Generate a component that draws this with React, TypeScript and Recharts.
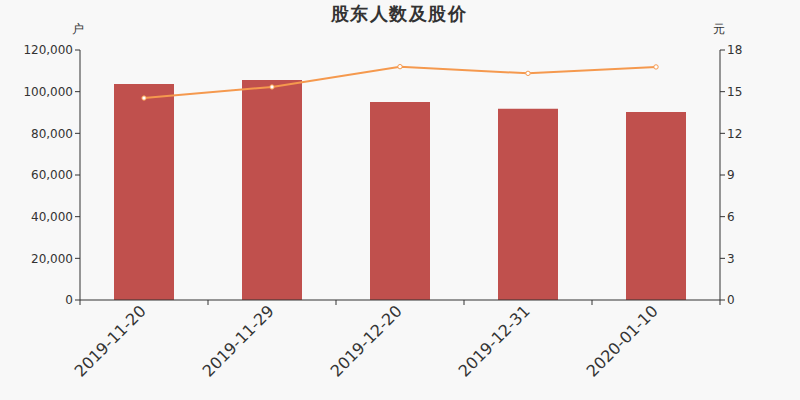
import React from 'react';
import { ComposedChart, Bar, Line, XAxis, YAxis } from 'recharts';

const categories = ['2019-11-20', '2019-11-29', '2019-12-20', '2019-12-31', '2020-01-10'];
const holders = [103700, 105600, 95000, 91800, 90200];
const prices = [14.54, 15.34, 16.8, 16.32, 16.78];
const leftTicks = [0, 20000, 40000, 60000, 80000, 100000, 120000];
const rightTicks = [0, 3, 6, 9, 12, 15, 18];

const data = categories.map((c, i) => ({ date: c, holders: holders[i], price: prices[i] }));

const FONT = 'DejaVu Sans, sans-serif';
const AX = '#333333';

const XTick = (props: any) => {
  const { x, y, payload, visibleTicksCount } = props;
  const half = payload && typeof payload.offset === 'number' && payload.offset > 0 ? payload.offset : 64;
  const axisY = y - 8;
  const ax = x + 3;
  const ay = y + 4;
  const isLast = payload.index === (visibleTicksCount ?? categories.length) - 1;
  return (
    <g>
      <line x1={x - half} x2={x - half} y1={axisY} y2={axisY + 5} stroke={AX} />
      {isLast && <line x1={x + half} x2={x + half} y1={axisY} y2={axisY + 5} stroke={AX} />}
      <text
        x={ax}
        y={ay}
        transform={`rotate(-45, ${ax}, ${ay})`}
        textAnchor="end"
        fontSize={16}
        fill={AX}
        fontFamily={FONT}
      >
        {payload.value}
      </text>
    </g>
  );
};

const Dot = (props: any) => {
  const { cx, cy } = props;
  return <circle cx={cx} cy={cy} r={2.2} fill="#ffffff" stroke="#f5994e" strokeWidth={1} />;
};

export default function App() {
  return (
    <div style={{ position: 'absolute', left: 0, top: 0, width: 800, height: 400, background: '#f8f8f8', fontFamily: FONT }}>
      <svg width={800} height={400} style={{ position: 'absolute', left: 0, top: 0, pointerEvents: 'none', zIndex: 1 }}>
        <text x={399} y={20} textAnchor="middle" fontSize={18} fontWeight="bold" letterSpacing={1.5} fill="#333" fontFamily={FONT}>股东人数及股价</text>
        <text x={78} y={33} textAnchor="middle" fontSize={12} fill="#333" fontFamily={FONT}>户</text>
        <text x={719} y={33} textAnchor="middle" fontSize={12} fill="#333" fontFamily={FONT}>元</text>
      </svg>
      <ComposedChart
        width={800}
        height={400}
        data={data}
        margin={{ top: 50, right: 0, left: 0, bottom: 0 }}
        barCategoryGap={0}
      >
        <XAxis
          dataKey="date"
          axisLine={{ stroke: AX }}
          tickLine={false}
          tick={<XTick />}
          interval={0}
          height={100}
        />
        <YAxis
          yAxisId="left"
          orientation="left"
          width={80}
          domain={[0, 120000]}
          ticks={leftTicks}
          axisLine={{ stroke: AX }}
          tickLine={{ stroke: AX }}
          tickSize={5}
          tick={{ fill: AX, fontSize: 12, fontFamily: FONT }}
          tickFormatter={(v: number) => v.toLocaleString('en-US')}
        />
        <YAxis
          yAxisId="right"
          orientation="right"
          width={80}
          domain={[0, 18]}
          ticks={rightTicks}
          axisLine={{ stroke: AX }}
          tickLine={{ stroke: AX }}
          tickSize={5}
          tick={{ fill: AX, fontSize: 12, fontFamily: FONT }}
        />
        <Bar
          yAxisId="left"
          dataKey="holders"
          fill="#c0504d"
          barSize={60}
          isAnimationActive={false}
        />
        <Line
          yAxisId="right"
          dataKey="price"
          stroke="#f5994e"
          strokeWidth={2}
          dot={<Dot />}
          activeDot={false}
          isAnimationActive={false}
        />
      </ComposedChart>
    </div>
  );
}
